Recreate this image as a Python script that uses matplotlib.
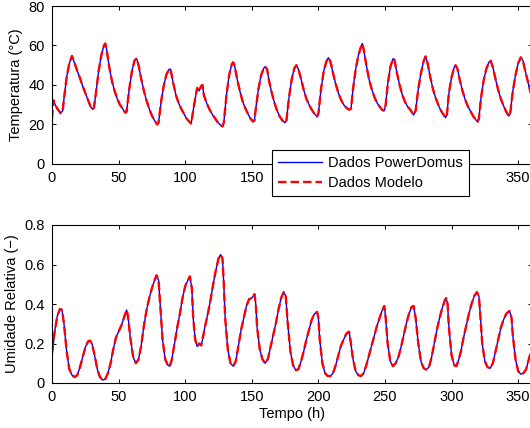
import matplotlib
matplotlib.use('Agg')
from matplotlib import pyplot as plt

plt.rcParams['font.family'] = ['Liberation Sans', 'DejaVu Sans']
plt.rcParams['font.size'] = 10.5

# temperatura (t em horas, valores em graus C)
t_temp = [0, 1, 2, 4, 6.5, 8, 9, 11, 13, 15, 17, 19, 21, 23, 25, 27, 29, 30.5,
          31.5, 33, 35, 37, 39, 40, 41, 43, 45, 47, 49, 51, 53, 55, 56, 58, 60,
          62, 63.5, 65, 67, 69, 71, 73, 75, 77, 79, 80, 82, 84, 86, 88, 89, 91,
          93, 95, 97, 99, 101, 103, 104.5, 106, 108, 109, 110.5, 112, 113, 114,
          116, 118, 120, 122, 124, 126, 128, 129, 131, 133, 135, 136, 137, 139,
          141, 143, 145, 147, 149, 151, 152, 153, 155, 157, 159, 160, 161.5, 163,
          165, 167, 169, 171, 173, 175, 176, 178, 180, 182, 183.5, 185, 187, 189,
          191, 193, 195, 197, 199, 200, 202, 204, 206, 207.5, 209, 211, 213, 215,
          217, 219, 221, 223, 224.5, 226, 228, 230, 232, 233, 234, 236, 238, 240,
          242, 244, 246, 248, 249.5, 250.5, 252, 254, 256, 257, 259, 261, 263,
          265, 267, 269, 271.5, 273, 275, 277, 279, 280.5, 282, 284, 286, 288,
          290, 292, 294, 295.5, 296.5, 298, 300, 302, 303, 304.5, 306, 308, 310,
          312, 314, 316, 318, 319.5, 320.5, 322, 324, 326, 328, 329.3, 331, 333,
          335, 337, 339, 341, 343, 344, 346, 348, 350, 352, 353.5, 355, 357, 359,
          360.5]
temp_powerdomus = [33, 32.3, 30.5, 28, 25.7, 27, 33, 44, 51, 54.7, 51, 47, 43.5,
                   39.5, 36, 32.5, 29, 27.7, 28.5, 36, 47, 55, 60, 61, 58, 49,
                   42, 37, 33, 30, 28, 26, 26.5, 38, 47, 52.5, 53.5, 50, 43, 37,
                   32, 28, 24.5, 22, 20, 21, 32, 40, 45.5, 48, 48, 41, 35, 31,
                   28, 25.5, 23, 21.5, 20.5, 27, 35, 38.5, 37, 39.5, 40, 35, 31,
                   28, 25.5, 23.5, 21.5, 20, 19, 21, 35, 45, 50.5, 51.5, 50, 43,
                   37, 32, 28.5, 25.5, 23, 21.5, 22, 28, 38, 45, 48.5, 49.3, 48,
                   42, 36, 31, 27, 24, 22, 20.9, 22, 34, 43, 48.5, 50, 48, 43,
                   37.5, 33, 30, 27.5, 25.5, 24, 25.5, 38, 47, 52, 53.8, 52, 46,
                   40.5, 36, 32.5, 30, 28.5, 27.5, 28, 38, 48, 55, 59.5, 61, 58,
                   50, 43, 38, 34, 31, 29, 27.3, 27, 30, 40, 49, 53.3, 53, 46,
                   40, 35, 31.5, 29, 27.5, 24.8, 27, 38, 46, 52, 54.5, 51, 44,
                   38, 33.5, 30, 27, 25, 23.4, 25, 36, 44, 49, 50, 48, 43, 37.5,
                   33, 29.5, 27, 24.5, 22.5, 21.4, 23, 33, 42, 48, 51.5, 52.3, 49,
                   43, 37.5, 33, 29.5, 26.5, 24.3, 25.5, 37, 45, 51, 54, 52.5, 48,
                   42.5, 37, 34]
temp_modelo = [23, 32.3] + temp_powerdomus[2:]

# umidade relativa (-)
t_ur = [0, 2, 4, 6, 7.5, 9, 11, 13, 15, 17, 19, 21, 23, 25, 27, 28.5, 30, 32,
        34, 36, 38, 40, 42, 44, 46, 48, 50, 52, 54, 56, 57, 59, 61, 63, 65, 67,
        69, 71, 73, 75, 77, 78.5, 80, 81, 83, 85, 87, 88.5, 90, 92, 94, 96, 98,
        100, 102, 103.5, 105, 106, 107.5, 109, 110.5, 112, 113, 115, 117, 119,
        121, 123, 125, 126.5, 128, 129, 130, 132, 134, 136, 138, 140, 142, 144,
        146, 148, 150, 152, 153, 154, 156, 158, 160, 162, 164, 166, 168, 170,
        172, 174, 175.5, 177, 179, 181, 183, 185, 187, 189, 191, 193, 195, 197,
        199, 200, 201, 203, 205, 207, 209, 211, 213, 215, 217, 219, 221, 223,
        224, 226, 228, 230, 232, 234, 236, 238, 240, 242, 244, 246, 248, 249.5,
        250.5, 252, 254, 256, 258, 260, 262, 264, 266, 268, 270, 271.5, 273,
        275, 277, 279, 281, 283, 285, 287, 289, 291, 293, 295, 296, 297, 298,
        300, 302, 303.5, 305, 307, 309, 311, 313, 315, 317, 319, 320.5, 321.5,
        323, 325, 327, 329, 331, 333, 335, 337, 339, 341, 343.5, 345, 346, 348,
        350, 352, 354, 356, 358, 360]
ur_powerdomus = [0.13, 0.26, 0.34, 0.375, 0.37, 0.30, 0.16, 0.07, 0.04, 0.03,
                 0.04, 0.08, 0.13, 0.18, 0.21, 0.215, 0.20, 0.14, 0.07, 0.03,
                 0.015, 0.02, 0.05, 0.10, 0.17, 0.23, 0.26, 0.29, 0.33, 0.37,
                 0.34, 0.22, 0.13, 0.10, 0.12, 0.19, 0.29, 0.37, 0.43, 0.48,
                 0.52, 0.545, 0.52, 0.42, 0.22, 0.12, 0.09, 0.085, 0.12, 0.20,
                 0.28, 0.35, 0.43, 0.49, 0.52, 0.54, 0.48, 0.33, 0.22, 0.185,
                 0.20, 0.19, 0.22, 0.29, 0.35, 0.42, 0.50, 0.57, 0.63, 0.65,
                 0.63, 0.50, 0.33, 0.17, 0.10, 0.085, 0.11, 0.19, 0.27, 0.33,
                 0.39, 0.425, 0.43, 0.45, 0.40, 0.28, 0.17, 0.12, 0.10, 0.12,
                 0.18, 0.24, 0.30, 0.37, 0.43, 0.46, 0.44, 0.30, 0.16, 0.09,
                 0.065, 0.07, 0.11, 0.16, 0.22, 0.27, 0.32, 0.35, 0.36, 0.33,
                 0.22, 0.10, 0.05, 0.035, 0.035, 0.05, 0.09, 0.14, 0.19, 0.22,
                 0.25, 0.26, 0.22, 0.12, 0.06, 0.04, 0.035, 0.05, 0.09, 0.14,
                 0.19, 0.24, 0.29, 0.33, 0.37, 0.39, 0.33, 0.20, 0.11, 0.085,
                 0.10, 0.13, 0.18, 0.24, 0.30, 0.35, 0.385, 0.39, 0.33, 0.20,
                 0.11, 0.075, 0.068, 0.08, 0.13, 0.20, 0.27, 0.33, 0.38, 0.42,
                 0.43, 0.40, 0.28, 0.14, 0.09, 0.085, 0.11, 0.16, 0.23, 0.29,
                 0.35, 0.40, 0.44, 0.46, 0.44, 0.35, 0.20, 0.11, 0.08, 0.075,
                 0.10, 0.16, 0.22, 0.28, 0.32, 0.35, 0.365, 0.33, 0.24, 0.12,
                 0.06, 0.045, 0.05, 0.07, 0.12, 0.17]
ur_modelo = [0.16] + ur_powerdomus[1:]

x_ticks = [0, 50, 100, 150, 200, 250, 300, 350]
x_ticklabels = ['0', '50', '100', '150', '200', '250', '300', '350']
# rotulos encobertos pela legenda no grafico de cima
x_ticklabels_top = ['0', '50', '100', '150', '', '', '', '350']
temp_ticks = [0, 20, 40, 60, 80]
ur_ticks = [0, 0.2, 0.4, 0.6, 0.8]
ur_ticklabels = ['0', '0.2', '0.4', '0.6', '0.8']

fig = plt.figure(figsize=(5.3, 4.28), dpi=100)
W, H = 530.0, 428.0
ax1 = fig.add_axes([52 / W, 1 - 164 / H, 479.5 / W, 158 / H])
ax2 = fig.add_axes([52 / W, 1 - 383 / H, 479.5 / W, 158 / H])

l1, = ax1.plot(t_temp, temp_powerdomus, color='#0000FF', lw=1.0)
l2, = ax1.plot(t_temp, temp_modelo, color='#FF0000', lw=1.7, dashes=(3.6, 1.7))
ax2.plot(t_ur, ur_powerdomus, color='#0000FF', lw=1.0)
ax2.plot(t_ur, ur_modelo, color='#FF0000', lw=1.7, dashes=(3.6, 1.7))

for ax in (ax1, ax2):
    ax.set_xlim(0, 360)
    ax.set_xticks(x_ticks)
    ax.tick_params(direction='in', top=True, right=True, length=3, width=0.7,
                   labelsize=10.5, pad=5)
    for s in ax.spines.values():
        s.set_linewidth(0.8)

ax1.set_xticklabels(x_ticklabels_top)
ax2.set_xticklabels(x_ticklabels)
ax1.set_ylim(0, 80)
ax1.set_yticks(temp_ticks)
ax1.set_ylabel('Temperatura (°C)')
ax2.set_ylim(0, 0.8)
ax2.set_yticks(ur_ticks)
ax2.set_yticklabels(ur_ticklabels)
ax2.set_ylabel('Umidade Relativa (−)')
ax2.set_xlabel('Tempo (h)', labelpad=2)

leg = fig.legend([l1, l2], ['Dados PowerDomus', 'Dados Modelo'],
                 loc='upper left', bbox_to_anchor=(272 / W, 1 - 150 / H),
                 fontsize=10.5, frameon=True, fancybox=False, framealpha=1,
                 edgecolor='black', handlelength=3.0, handletextpad=0.45,
                 borderpad=0.42, labelspacing=0.4, borderaxespad=0)
leg.get_frame().set_linewidth(0.8)

plt.savefig('out.png', dpi=100)
